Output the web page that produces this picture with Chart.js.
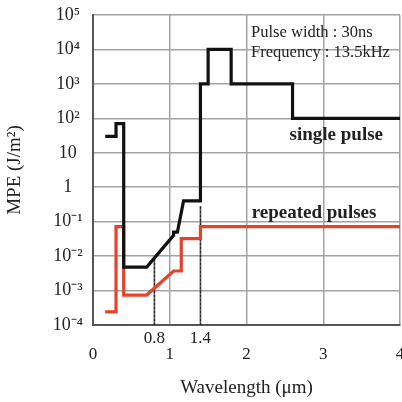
<!DOCTYPE html>
<html>
<head>
<meta charset="utf-8">
<script src="https://cdn.jsdelivr.net/npm/chart.js@4.4.1/dist/chart.umd.min.js"></script>
<style>
  html, body { margin: 0; padding: 0; background: #fff; }
  #wrap { width: 402px; height: 402px; }
</style>
</head>
<body>
<div id="wrap"><canvas id="grafica" width="402" height="402"></canvas></div>
<script>
// valores
const singleX = [0.18, 0.3, 0.3, 0.4, 0.4, 0.7, 1.05, 1.05, 1.1, 1.18, 1.4, 1.4, 1.5, 1.5, 1.8, 1.8, 2.6, 2.6, 4];
const singleY = [30, 30, 70, 70, 0.0048, 0.0048, 0.04, 0.05, 0.05, 0.4, 0.4, 1000, 1000, 10000, 10000, 1000, 1000, 100, 100];

const repeatedX = [0.18, 0.3, 0.3, 0.4, 0.4, 0.7, 1.05, 1.15, 1.15, 1.4, 1.4, 4];
const repeatedY = [0.00024, 0.00024, 0.072, 0.072, 0.00074, 0.00074, 0.0037, 0.0037, 0.032, 0.032, 0.072, 0.072];

const guide08X = [0.8, 0.8];
const guide08Y = [0.0001, 0.008];
const guide14X = [1.4, 1.4];
const guide14Y = [0.0001, 0.3];

const xTicks = [0, 0.8, 1, 1.4, 2, 3, 4];
const xTickLabels = ['0', '0.8', '1', '1.4', '2', '3', '4'];
const raisedTicks = [0.8, 1.4];

const yTicks = [1e-4, 1e-3, 1e-2, 1e-1, 1, 10, 1e2, 1e3, 1e4, 1e5];
const yTickLabels = ['10⁻⁴', '10⁻³', '10⁻²', '10⁻¹', '1', '10', '10²', '10³', '10⁴', '10⁵'];

const SERIF = "'Liberation Serif', 'Times New Roman', serif";

function puntos(xs, ys) {
    return xs.map((x, i) => ({ x: x, y: ys[i] }));
}

const notasPlugin = {
    id: 'notas',
    afterDatasetsDraw(chart) {
        const ctx = chart.ctx;
        const sx = chart.scales.x;
        const sy = chart.scales.y;
        ctx.save();
        ctx.fillStyle = '#222';
        ctx.textBaseline = 'middle';

        ctx.font = '16.5px ' + SERIF;
        ctx.textAlign = 'left';
        ctx.fillText('Pulse width : 30ns', sx.getPixelForValue(2.06), sy.getPixelForValue(Math.pow(10, 4.5)));
        ctx.fillText('Frequency : 13.5kHz', sx.getPixelForValue(2.06), sy.getPixelForValue(Math.pow(10, 3.92)));

        ctx.font = 'bold 19px ' + SERIF;
        ctx.textAlign = 'center';
        ctx.fillText('single pulse', sx.getPixelForValue(3.17), sy.getPixelForValue(Math.pow(10, 1.52)));
        ctx.fillText('repeated pulses', sx.getPixelForValue(2.88), sy.getPixelForValue(Math.pow(10, -0.75)));
        ctx.restore();
    }
};

const fondoPlugin = {
    id: 'fondo',
    beforeDraw(chart) {
        const ctx = chart.ctx;
        ctx.save();
        ctx.fillStyle = '#fff';
        ctx.fillRect(0, 0, chart.width, chart.height);
        ctx.restore();
    }
};

new Chart(document.getElementById('grafica'), {
    type: 'line',
    data: {
        datasets: [
            {
                data: puntos(singleX, singleY),
                borderColor: '#111',
                borderWidth: 3.2
            },
            {
                data: puntos(repeatedX, repeatedY),
                borderColor: '#e5412b',
                borderWidth: 3.2
            },
            {
                data: puntos(guide08X, guide08Y),
                borderColor: '#222',
                borderWidth: 1.6,
                borderDash: [2, 2]
            },
            {
                data: puntos(guide14X, guide14Y),
                borderColor: '#222',
                borderWidth: 1.6,
                borderDash: [2, 2]
            }
        ]
    },
    options: {
        responsive: false,
        animation: false,
        events: [],
        layout: { padding: { top: 15, right: 2, left: 0, bottom: 0 } },
        elements: {
            point: { radius: 0 },
            line: { tension: 0, borderCapStyle: 'square', borderJoinStyle: 'miter' }
        },
        plugins: {
            legend: { display: false },
            tooltip: { enabled: false }
        },
        scales: {
            x: {
                type: 'linear',
                min: 0,
                max: 4,
                afterBuildTicks: (scale) => {
                    scale.ticks = xTicks.map(v => ({ value: v }));
                },
                afterFit: (scale) => {
                    scale.height = 77;
                    scale.paddingLeft = 0;
                    scale.paddingRight = 0;
                },
                grid: {
                    drawTicks: false,
                    lineWidth: 1.5,
                    color: (c) => (c.tick && raisedTicks.includes(c.tick.value)) ? 'rgba(0,0,0,0)' : '#a3a3a3'
                },
                border: { color: '#555', width: 2 },
                ticks: {
                    padding: 5,
                    maxRotation: 0,
                    autoSkip: false,
                    color: '#222',
                    font: { family: SERIF, size: 17, lineHeight: 0.95 },
                    callback: (value) => {
                        const i = xTicks.indexOf(value);
                        const txt = i >= 0 ? xTickLabels[i] : '';
                        return raisedTicks.includes(value) ? txt : ['', txt];
                    }
                },
                title: {
                    display: true,
                    text: 'Wavelength (μm)',
                    color: '#222',
                    font: { family: SERIF, size: 19 },
                    padding: { top: 0, bottom: 3 }
                }
            },
            y: {
                type: 'logarithmic',
                min: 1e-4,
                max: 1e5,
                afterBuildTicks: (scale) => {
                    scale.ticks = yTicks.map(v => ({ value: v }));
                },
                afterFit: (scale) => {
                    scale.width = 93;
                    scale.paddingTop = 0;
                    scale.paddingBottom = 0;
                },
                grid: {
                    drawTicks: false,
                    lineWidth: 1.5,
                    color: '#a3a3a3'
                },
                border: { color: '#555', width: 2 },
                ticks: {
                    padding: 10,
                    crossAlign: 'center',
                    autoSkip: false,
                    color: '#222',
                    font: { family: SERIF, size: 18 },
                    callback: (value) => {
                        const i = yTicks.findIndex(t => Math.abs(Math.log10(t) - Math.log10(value)) < 1e-6);
                        return i >= 0 ? yTickLabels[i] : '';
                    }
                },
                title: {
                    display: true,
                    text: 'MPE (J/m²)',
                    color: '#222',
                    font: { family: SERIF, size: 19 },
                    padding: { top: 4, bottom: 0 }
                }
            }
        }
    },
    plugins: [fondoPlugin, notasPlugin]
});
</script>
</body>
</html>
